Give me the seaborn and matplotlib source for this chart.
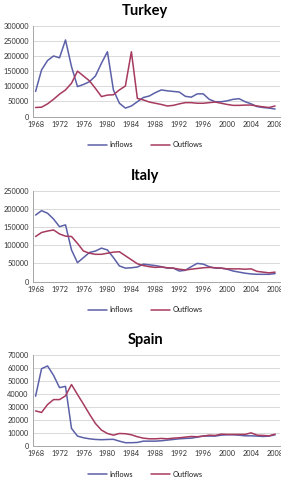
import pandas as pd
import seaborn as sns
import matplotlib.pyplot as plt

years = list(range(1968, 2009))

turkey_in = [83000, 154000, 185000, 200000, 194000, 253000, 165000, 99000, 106000, 115000,
             134000, 176000, 214000, 88000, 44000, 28000, 35000, 49000, 63000, 68000,
             79000, 88000, 85000, 83000, 81000, 67000, 64000, 75000, 75000, 57000,
             49000, 49000, 52000, 57000, 59000, 49000, 42000, 33000, 30000, 28000, 25000]
turkey_out = [30000, 31000, 42000, 57000, 74000, 88000, 110000, 150000, 134000, 118000,
              93000, 66000, 71000, 72000, 88000, 101000, 214000, 60000, 55000, 48000,
              44000, 40000, 35000, 37000, 42000, 46000, 46000, 44000, 44000, 46000,
              48000, 44000, 40000, 37000, 37000, 38000, 38000, 35000, 32000, 30000, 35000]

italy_in = [183000, 195000, 188000, 172000, 151000, 156000, 87000, 52000, 66000, 80000,
            84000, 92000, 87000, 66000, 43000, 37000, 38000, 40000, 48000, 46000,
            44000, 41000, 37000, 37000, 29000, 31000, 41000, 50000, 48000, 41000,
            37000, 37000, 34000, 29000, 26000, 23000, 21000, 20000, 20000, 20000, 22000]
italy_out = [124000, 135000, 139000, 142000, 131000, 125000, 124000, 105000, 84000, 78000,
             75000, 75000, 78000, 81000, 82000, 71000, 60000, 49000, 44000, 41000,
             39000, 40000, 38000, 37000, 34000, 32000, 34000, 36000, 38000, 39000,
             38000, 37000, 35000, 35000, 35000, 34000, 35000, 28000, 26000, 24000, 26000]

spain_in = [38400, 59600, 61700, 54500, 45000, 46000, 13600, 7700, 6400, 5600,
            5100, 4900, 5100, 5200, 3800, 2600, 2600, 2800, 3800, 3800,
            3800, 4100, 4600, 5100, 5600, 5900, 6100, 6900, 7700, 7700,
            7700, 8400, 8700, 8700, 8400, 7900, 7900, 7700, 7400, 7700, 8700]
spain_out = [27100, 25900, 32000, 35800, 35800, 38700, 47400, 39700, 32300, 24600,
             17400, 12300, 9700, 8400, 9700, 9500, 8700, 7200, 6100, 5600,
             5600, 5900, 5600, 6100, 6400, 6900, 7400, 7200, 7700, 8400,
             8200, 9200, 9000, 9000, 9000, 9000, 10200, 8400, 8200, 7900, 9200]

countries = ["Turkey", "Italy", "Spain"]
series = {"Turkey": (turkey_in, turkey_out),
          "Italy": (italy_in, italy_out),
          "Spain": (spain_in, spain_out)}
ymax = {"Turkey": 300000, "Italy": 250000, "Spain": 70000}
ystep = {"Turkey": 50000, "Italy": 50000, "Spain": 10000}

sns.set_style("white")
plt.rcParams["font.family"] = ["Lato", "DejaVu Sans"]
plt.rcParams["text.color"] = "#1a1a1a"
plt.rcParams["xtick.color"] = "#333333"
plt.rcParams["ytick.color"] = "#333333"

fig = plt.figure(figsize=(2.81, 4.94), dpi=100)
bottoms = [0.764, 0.430, 0.097]
palette = {"Inflows": "#5b60a8", "Outflows": "#a63a5f"}

for name, b in zip(countries, bottoms):
    ax = fig.add_axes([0.117, b, 0.879, 0.184])
    inflow, outflow = series[name]
    df = pd.DataFrame({"year": years * 2,
                       "value": inflow + outflow,
                       "kind": ["Inflows"] * len(years) + ["Outflows"] * len(years)})
    sns.lineplot(data=df, x="year", y="value", hue="kind", palette=palette,
                 linewidth=1.1, ax=ax, legend=True)
    ax.set_xlim(1967.55, 2008.8)
    ax.set_ylim(0, ymax[name])
    ax.set_yticks(range(0, ymax[name] + 1, ystep[name]))
    ax.set_xticks(range(1968, 2009, 4))
    ax.tick_params(labelsize=5.3, length=0, pad=3)
    ax.grid(axis="y", color="#d9d9d9", linewidth=0.7)
    ax.set_axisbelow(True)
    for s in ["top", "right"]:
        ax.spines[s].set_visible(False)
    for s in ["left", "bottom"]:
        ax.spines[s].set_color("#a6a6a6")
        ax.spines[s].set_linewidth(0.7)
    ax.set_xlabel("")
    ax.set_ylabel("")
    ax.set_title(name, fontsize=10.5, fontweight="bold", pad=8, x=0.455, color="black")
    ax.legend(loc="upper center", bbox_to_anchor=(0.455, -0.2), ncol=2, frameon=False,
              fontsize=5.3, handlelength=2.6, columnspacing=2.5, handletextpad=0.3)

fig.savefig("out.png", dpi=100)
